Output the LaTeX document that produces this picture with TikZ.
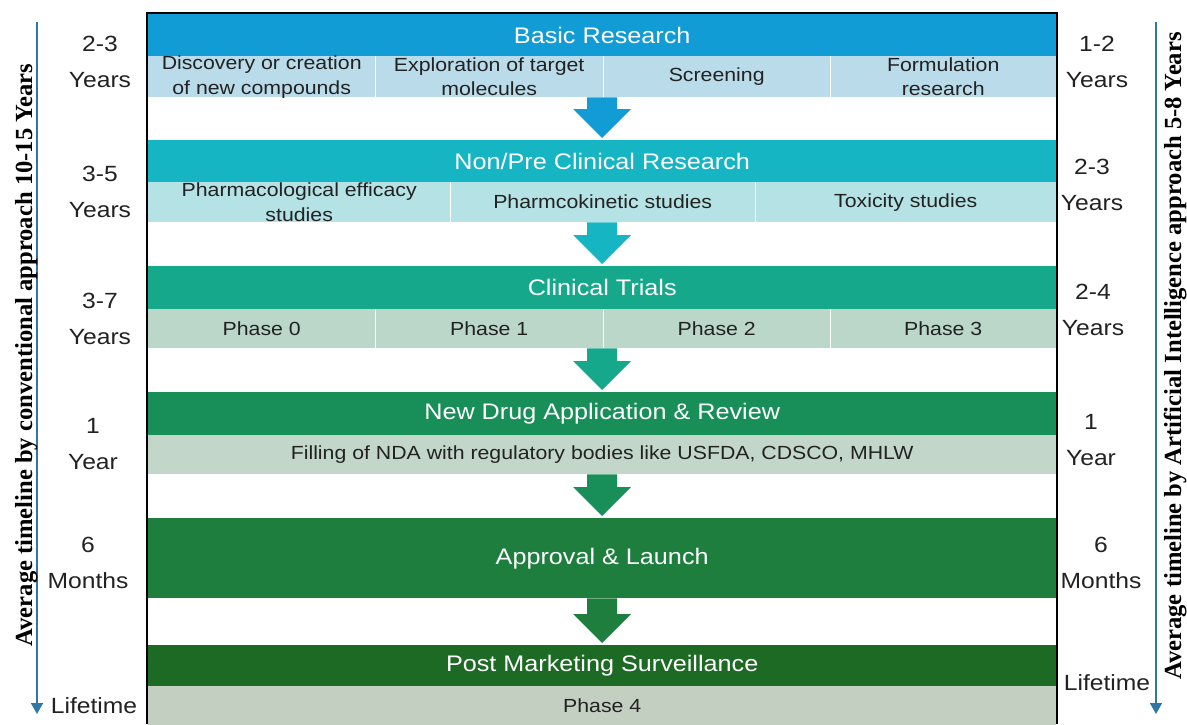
\documentclass[tikz,border=0pt]{standalone}
\usepackage{fontspec}
\usetikzlibrary{calc,arrows.meta}
\newfontfamily\labfont[FakeStretch=1.12]{Liberation Sans}
\newfontfamily\rotfont{Liberation Serif}
\definecolor{hA}{HTML}{129CD6}\definecolor{sA}{HTML}{B9DBEA}
\definecolor{hB}{HTML}{15B5C4}\definecolor{sB}{HTML}{B5E2E4}
\definecolor{hC}{HTML}{16A88B}\definecolor{sC}{HTML}{BAD7CA}
\definecolor{hD}{HTML}{188E58}\definecolor{sD}{HTML}{C3D6CA}
\definecolor{hE}{HTML}{1E7E3D}
\definecolor{hF}{HTML}{1D6A25}\definecolor{sF}{HTML}{C3CFC0}
\definecolor{axisc}{HTML}{2F78A6}
\definecolor{txt}{HTML}{222222}
\newcommand{\blockarrow}[3]{%
  \fill[#3] let \p1=(#1.south), \p2=(#2.north) in
   (\x1-15pt,\y1) -- (\x1+15pt,\y1) -- (\x1+15pt,\y2+31pt) -- (\x1+29pt,\y2+31pt)
   -- (\x1,\y2+2pt) -- (\x1-29pt,\y2+31pt) -- (\x1-15pt,\y2+31pt) -- cycle;}
\tikzset{
  hdr/.style={rectangle, inner sep=0pt, anchor=north west, minimum width=908pt,
    text=white, font=\labfont\fontsize{22.5}{26}\selectfont},
  subrow/.style={rectangle, inner sep=0pt, anchor=north west, minimum width=908pt},
  cell/.style={rectangle, inner sep=0pt, anchor=north west, text=txt, align=center,
    font=\labfont\fontsize{19}{24.5}\selectfont},
  side/.style={text=txt, align=center, inner sep=0pt, font=\labfont\fontsize{22}{36}\selectfont},
  rot/.style={rotate=90, anchor=base, inner sep=0pt, text=black,
    font=\rotfont\bfseries\fontsize{24.6}{28}\selectfont},
  axisline/.style={axisc, line width=1.6pt, -{Triangle[width=12pt,length=11pt]}},
  divider/.style={white, line width=0.8pt},
}
\begin{document}
\begin{tikzpicture}[x=1pt,y=-1pt]
\useasboundingbox (0,0) rectangle (1187,724);
\fill[white] (0,0) rectangle (1187,724);
% Band 1
\node[hdr, fill=hA, minimum height=42pt] (h1) at (148,14) {Basic Research};
\node[subrow, fill=sA, minimum height=41pt] (r1) at (148,56) {};
\node[cell, minimum width=227pt, minimum height=41pt] (c1a) at (148,56) {Discovery or creation\\of new compounds};
\node[cell, minimum width=228pt, minimum height=41pt] (c1b) at (375,56) {Exploration of target\\molecules};
\node[cell, minimum width=227pt, minimum height=41pt] (c1c) at (603,56) {Screening};
\node[cell, minimum width=226pt, minimum height=41pt] (c1d) at (830,56) {Formulation\\research};
\draw[divider] (c1a.north east) -- (c1a.south east);
\draw[divider] (c1b.north east) -- (c1b.south east);
\draw[divider] (c1c.north east) -- (c1c.south east);
% Band 2
\node[hdr, fill=hB, minimum height=42pt] (h2) at (148,140) {Non/Pre Clinical Research};
\node[subrow, fill=sB, minimum height=40pt] (r2) at (148,182) {};
\node[cell, minimum width=302pt, minimum height=40pt] (c2a) at (148,182) {Pharmacological efficacy\\studies};
\node[cell, minimum width=305pt, minimum height=40pt] (c2b) at (450,182) {Pharmcokinetic studies};
\node[cell, minimum width=301pt, minimum height=40pt] (c2c) at (755,182) {Toxicity studies};
\draw[divider] (c2a.north east) -- (c2a.south east);
\draw[divider] (c2b.north east) -- (c2b.south east);
% Band 3
\node[hdr, fill=hC, minimum height=43pt] (h3) at (148,266) {Clinical Trials};
\node[subrow, fill=sC, minimum height=39pt] (r3) at (148,309) {};
\node[cell, minimum width=227pt, minimum height=39pt] (c3a) at (148,309) {Phase 0};
\node[cell, minimum width=228pt, minimum height=39pt] (c3b) at (375,309) {Phase 1};
\node[cell, minimum width=227pt, minimum height=39pt] (c3c) at (603,309) {Phase 2};
\node[cell, minimum width=226pt, minimum height=39pt] (c3d) at (830,309) {Phase 3};
\draw[divider] (c3a.north east) -- (c3a.south east);
\draw[divider] (c3b.north east) -- (c3b.south east);
\draw[divider] (c3c.north east) -- (c3c.south east);
% Band 4
\node[hdr, fill=hD, minimum height=43pt] (h4) at (148,392) {New Drug Application \& Review};
\node[subrow, fill=sD, minimum height=39pt] (r4) at (148,435) {};
\node[cell, minimum width=908pt, minimum height=39pt] (c4a) at (148,435) {Filling of NDA with regulatory bodies like USFDA, CDSCO, MHLW};
% Band 5
\node[hdr, fill=hE, minimum height=80pt] (h5) at (148,518) {Approval \& Launch};
% Band 6
\node[hdr, fill=hF, minimum height=41pt] (h6) at (148,645) {Post Marketing Surveillance};
\node[subrow, fill=sF, minimum height=40pt] (r6) at (148,686) {};
\node[cell, minimum width=908pt, minimum height=38pt] (c6a) at (148,686) {Phase 4};
% block arrows
\blockarrow{r1}{h2}{hA}
\blockarrow{r2}{h3}{hB}
\blockarrow{r3}{h4}{hC}
\blockarrow{r4}{h5}{hD}
\blockarrow{h5}{h6}{hE}
% frame
\draw[black, line width=2pt] (147,724) -- (147,13) -- (1057,13) -- (1057,724);
% left durations
\node[side] (l1) at (100,62) {2-3\\Years};
\node[side] (l2) at (100,192) {3-5\\Years};
\node[side] (l3) at (100,319) {3-7\\Years};
\node[side] (l4) at (93,444) {1\\Year};
\node[side] (l5) at (88,563) {6\\Months};
\node[side] (l6) at (94,706) {Lifetime};
% right durations
\node[side] (q1) at (1097,62) {1-2\\Years};
\node[side] (q2) at (1092,185) {2-3\\Years};
\node[side] (q3) at (1093,310) {2-4\\Years};
\node[side] (q4) at (1091,440) {1\\Year};
\node[side] (q5) at (1101,563) {6\\Months};
\node[side] (q6) at (1107,683) {Lifetime};
% axes
\coordinate (la0) at (37,22); \coordinate (la1) at (37,714);
\draw[axisline] (la0) -- (la1);
\coordinate (ra0) at (1156,22); \coordinate (ra1) at (1156,714);
\draw[axisline] (ra0) -- (ra1);
\node[rot] (lt) at (32,355) {Average timeline by conventional approach 10-15 Years};
\node[rot] (rt) at (1181,356) {Average timeline by Artificial Intelligence approach 5-8 Years};
\end{tikzpicture}
\end{document}
